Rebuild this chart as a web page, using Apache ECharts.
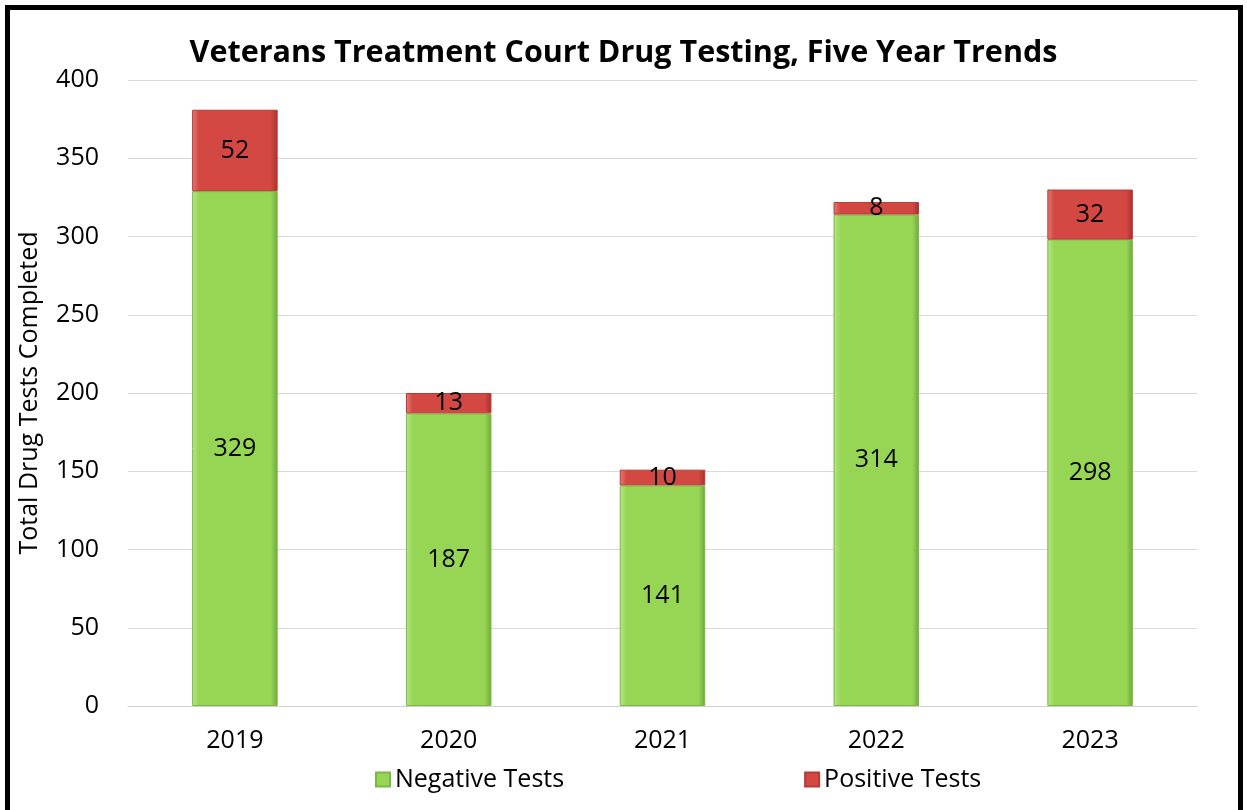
<!DOCTYPE html>
<html>
<head>
<meta charset="utf-8">
<script src="https://cdn.jsdelivr.net/npm/echarts@6/dist/echarts.min.js"></script>
<style>
html, body { margin: 0; padding: 0; background: #fff; }
#frame { position: absolute; left: 5px; top: 5px; width: 1238px; height: 815px; border: 5px solid #000; box-sizing: border-box; }
#chartmain { position: absolute; left: 0; top: 0; width: 1247px; height: 810px; }
</style>
</head>
<body>
<div id="frame"></div>
<div id="chartmain"></div>
<script>
var years = ['2019', '2020', '2021', '2022', '2023'];
var negative = [329, 187, 141, 314, 298];
var positive = [52, 13, 10, 8, 32];
var yTicks = [0, 50, 100, 150, 200, 250, 300, 350, 400];

var font = "'Open Sans', 'Noto Sans', sans-serif";

function bevel(light, mid, dark) {
	return new echarts.graphic.LinearGradient(0, 0, 1, 0, [
		{ offset: 0, color: light },
		{ offset: 0.08, color: mid },
		{ offset: 0.92, color: mid },
		{ offset: 1, color: dark }
	]);
}

var option = {
	animation: false,
	title: {
		text: 'Veterans Treatment Court Drug Testing, Five Year Trends',
		left: 'center',
		top: 33,
		textStyle: { fontFamily: font, fontSize: 30.5, fontWeight: 'bold', color: '#000' }
	},
	legend: {
		top: 762,
		left: 370,
		itemGap: 240,
		itemWidth: 14,
		itemHeight: 14,
		icon: 'rect',
		textStyle: { fontFamily: font, fontSize: 25, color: '#000' },
		data: ['Negative Tests', 'Positive Tests']
	},
	grid: { left: 128, right: 50, top: 80, bottom: 104 },
	xAxis: {
		type: 'category',
		data: years,
		axisLine: { lineStyle: { color: '#d0d0d0', width: 1 } },
		axisTick: { show: false },
		axisLabel: { fontFamily: font, fontSize: 25, color: '#000', margin: 22 }
	},
	yAxis: {
		type: 'value',
		min: yTicks[0],
		max: yTicks[yTicks.length - 1],
		interval: 50,
		name: 'Total Drug Tests Completed',
		nameLocation: 'middle',
		nameGap: 86,
		nameTextStyle: { fontFamily: font, fontSize: 25, color: '#000' },
		axisLine: { show: false },
		axisTick: { show: false },
		axisLabel: { fontFamily: font, fontSize: 25, color: '#000', margin: 29 },
		splitLine: { lineStyle: { color: '#d9d9d9', width: 1 } }
	},
	series: [
		{
			name: 'Negative Tests',
			type: 'bar',
			stack: 'tests',
			barWidth: '40%',
			data: negative,
			itemStyle: {
				color: bevel('#b6e886', '#97d655', '#6fa83a'),
				borderColor: '#7cb746',
				borderWidth: 1
			},
			label: {
				show: true,
				position: 'inside',
				fontFamily: font,
				fontSize: 25,
				color: '#000'
			}
		},
		{
			name: 'Positive Tests',
			type: 'bar',
			stack: 'tests',
			barWidth: '40%',
			data: positive,
			itemStyle: {
				color: bevel('#e57b76', '#d34843', '#a82f2b'),
				borderColor: '#b83a36',
				borderWidth: 1
			},
			label: {
				show: true,
				position: 'inside',
				fontFamily: font,
				fontSize: 25,
				color: '#000'
			}
		}
	]
};

var myChart = echarts.init(document.getElementById('chartmain'));
myChart.setOption(option);
</script>
</body>
</html>
